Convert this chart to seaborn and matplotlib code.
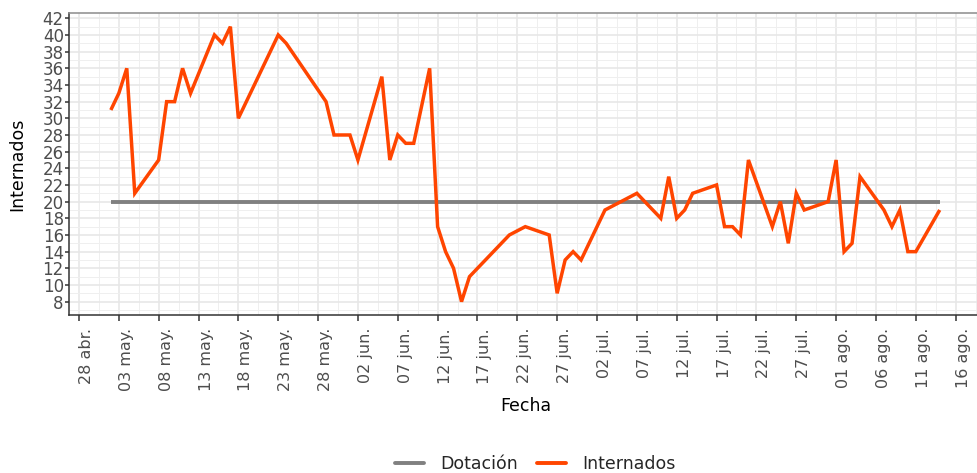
import matplotlib
matplotlib.use("Agg")
import matplotlib.pyplot as plt
import matplotlib.dates as mdates
from matplotlib.lines import Line2D
from matplotlib.ticker import FixedLocator
import seaborn as sns
import pandas as pd
import numpy as np

# ---- data ----
fechas = ["2020-05-02", "2020-05-03", "2020-05-04", "2020-05-05", "2020-05-08",
          "2020-05-09", "2020-05-10", "2020-05-11", "2020-05-12", "2020-05-15",
          "2020-05-16", "2020-05-17", "2020-05-18", "2020-05-23", "2020-05-24",
          "2020-05-29", "2020-05-30", "2020-06-01", "2020-06-02", "2020-06-05",
          "2020-06-06", "2020-06-07", "2020-06-08", "2020-06-09", "2020-06-11",
          "2020-06-12", "2020-06-13", "2020-06-14", "2020-06-15", "2020-06-16",
          "2020-06-21", "2020-06-23", "2020-06-26", "2020-06-27", "2020-06-28",
          "2020-06-29", "2020-06-30", "2020-07-03", "2020-07-07", "2020-07-10",
          "2020-07-11", "2020-07-12", "2020-07-13", "2020-07-14", "2020-07-17",
          "2020-07-18", "2020-07-19", "2020-07-20", "2020-07-21", "2020-07-24",
          "2020-07-25", "2020-07-26", "2020-07-27", "2020-07-28", "2020-07-31",
          "2020-08-01", "2020-08-02", "2020-08-03", "2020-08-04", "2020-08-07",
          "2020-08-08", "2020-08-09", "2020-08-10", "2020-08-11", "2020-08-14"]
internados = [31, 33, 36, 21, 25,
              32, 32, 36, 33, 40,
              39, 41, 30, 40, 39,
              32, 28, 28, 25, 35,
              25, 28, 27, 27, 36,
              17, 14, 12, 8, 11,
              16, 17, 16, 9, 13,
              14, 13, 19, 21, 18,
              23, 18, 19, 21, 22,
              17, 17, 16, 25, 17,
              20, 15, 21, 19, 20,
              25, 14, 15, 23, 19,
              17, 19, 14, 14, 19]
dotacion = [20] * len(fechas)

tick_fechas = ["2020-04-28", "2020-05-03", "2020-05-08", "2020-05-13", "2020-05-18",
               "2020-05-23", "2020-05-28", "2020-06-02", "2020-06-07", "2020-06-12",
               "2020-06-17", "2020-06-22", "2020-06-27", "2020-07-02", "2020-07-07",
               "2020-07-12", "2020-07-17", "2020-07-22", "2020-07-27", "2020-08-01",
               "2020-08-06", "2020-08-11", "2020-08-16"]
tick_labels = ["28 abr.", "03 may.", "08 may.", "13 may.", "18 may.",
               "23 may.", "28 may.", "02 jun.", "07 jun.", "12 jun.",
               "17 jun.", "22 jun.", "27 jun.", "02 jul.", "07 jul.",
               "12 jul.", "17 jul.", "22 jul.", "27 jul.", "01 ago.",
               "06 ago.", "11 ago.", "16 ago."]
y_ticks = list(range(8, 43, 2))

series_names = ["Dotación", "Internados"]
colors = {"Dotación": "#808080", "Internados": "#FF4500"}

# ---- frame ----
fx = pd.to_datetime(fechas)
df = pd.concat([
    pd.DataFrame({"Fecha": fx, "valor": dotacion, "serie": "Dotación"}),
    pd.DataFrame({"Fecha": fx, "valor": internados, "serie": "Internados"}),
], ignore_index=True)

sns.set_theme(style="white")
plt.rcParams["font.family"] = ["DejaVu Sans"]

W, H = 978, 473
fig = plt.figure(figsize=(W / 100, H / 100), dpi=100)

# axis limits with ggplot-like 5% expansion
xmin_d, xmax_d = fx.min(), fx.max()
span = (xmax_d - xmin_d)
xlo = xmin_d - 0.05 * span
xhi = xmax_d + 0.05 * span
vmin, vmax = min(min(internados), min(dotacion)), max(max(internados), max(dotacion))
ylo = vmin - 0.05 * (vmax - vmin)
yhi = vmax + 0.05 * (vmax - vmin)

px_day = 7.97
left_px = 69.4
ndays = (xhi - xlo) / pd.Timedelta(days=1)
width_px = ndays * px_day
top_px, bottom_px = 12.9, 315.4
ax = fig.add_axes([left_px / W, 1 - bottom_px / H, width_px / W, (bottom_px - top_px) / H])

sns.lineplot(data=df, x="Fecha", y="valor", hue="serie", hue_order=series_names,
             palette=colors, ax=ax, legend=False, linewidth=2.5, estimator=None)
for ln, lw in zip(ax.get_lines(), [2.8, 2.5]):
    ln.set_linewidth(lw)
    ln.set_solid_capstyle("butt")
    ln.set_solid_joinstyle("miter")

ax.set_xlim(xlo, xhi)
ax.set_ylim(ylo, yhi)

tnum = mdates.date2num(pd.to_datetime(tick_fechas))
ax.xaxis.set_major_locator(FixedLocator(tnum))
ax.xaxis.set_minor_locator(FixedLocator(np.concatenate([tnum - 2.5, tnum + 2.5])))
ax.set_xticklabels(tick_labels, rotation=90, ha="left", va="top")
ax.yaxis.set_major_locator(FixedLocator(y_ticks))
ax.yaxis.set_minor_locator(FixedLocator([v + 1 for v in y_ticks[:-1]] + [7]))
ax.set_yticklabels([str(v) for v in y_ticks])

ax.set_facecolor("white")
ax.grid(which="major", color="#e6e6e6", linewidth=1.1)
ax.grid(which="minor", color="#efefef", linewidth=0.7)
ax.set_axisbelow(True)

for s in ["left", "bottom"]:
    ax.spines[s].set_color("#333333")
    ax.spines[s].set_linewidth(1.1)
ax.spines["top"].set_color("#8c8c8c")
ax.spines["top"].set_linewidth(1.1)
ax.spines["right"].set_visible(False)

ax.tick_params(axis="x", which="major", length=4, width=1.1, color="#333333",
               labelsize=11.5, labelcolor="#4d4d4d", pad=5, bottom=True)
ax.tick_params(axis="y", which="major", length=3, width=1.1, color="#333333",
               labelsize=12, labelcolor="#4d4d4d", pad=1, left=True)
ax.tick_params(which="minor", length=0)
for lab in ax.get_xticklabels():
    lab.set_ha("left")

ax.set_xlabel("Fecha", fontsize=12.5, color="black")
ax.set_ylabel("Internados", fontsize=12.5, color="black")
ax.xaxis.set_label_coords((526 - left_px) / width_px, -(397 - bottom_px) / (bottom_px - top_px))
ax.yaxis.set_label_coords(-(left_px - 26) / width_px, 0.5)

handles = [Line2D([], [], color=colors[n], linewidth=2.8) for n in series_names]
fig.legend(handles, series_names, loc="center", ncol=2, frameon=False,
           bbox_to_anchor=(535 / W, 1 - 464 / H), fontsize=12.5,
           handlelength=1.7, handletextpad=0.9, columnspacing=1.1)

fig.savefig("out.png", dpi=100)
